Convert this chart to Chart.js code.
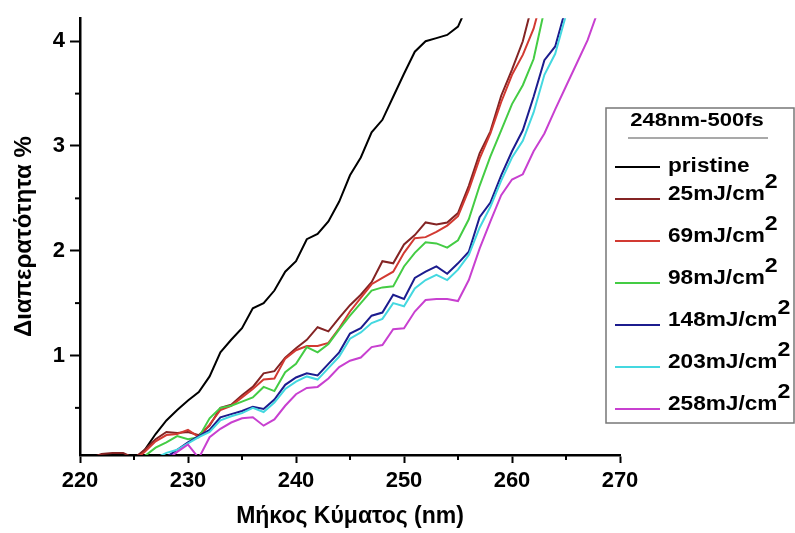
<!DOCTYPE html>
<html>
<head>
<meta charset="utf-8">
<title>Διαπερατότητα 248nm-500fs</title>
<script src="https://cdn.jsdelivr.net/npm/chart.js@4.4.1/dist/chart.umd.min.js"></script>
<style>
  html, body { margin: 0; padding: 0; background: #fff; }
  #chart { display: block; }
</style>
</head>
<body>
<canvas id="chart" width="795" height="533"></canvas>
<script>
// wavelength grid in nm (1 nm steps)
const wavelengths = [220, 221, 222, 223, 224, 225, 226, 227, 228, 229, 230, 231, 232, 233, 234, 235, 236,
  237, 238, 239, 240, 241, 242, 243, 244, 245, 246, 247, 248, 249, 250, 251, 252, 253, 254, 255, 256,
  257, 258, 259, 260, 261, 262, 263, 264, 265, 266, 267, 268];

// transmittance (%) per sample, null where the curve leaves the plot
const pristine = [0, 0, 0.01, 0, 0.01, 0,
  0.1, 0.25, 0.38, 0.48, 0.57, 0.65, 0.8, 1.03, 1.15, 1.26,
  1.45, 1.5, 1.62, 1.8, 1.9, 2.11, 2.16, 2.28, 2.47, 2.72,
  2.89, 3.13, 3.25, 3.47, 3.69, 3.9, 4.0, 4.03, 4.06, 4.14, 4.37,
  null, null, null, null, null, null, null, null, null, null, null, null];
const fluence25 = [0, 0.02, 0.06, 0.07, 0.07, 0.02,
  0.1, 0.2, 0.27, 0.26, 0.27, 0.24, 0.33, 0.5, 0.53, 0.62,
  0.7, 0.83, 0.85, 0.98, 1.07, 1.15, 1.27, 1.23, 1.36, 1.48,
  1.58, 1.7, 1.9, 1.88, 2.06, 2.15, 2.27, 2.25, 2.27, 2.36,
  2.62, 2.93, 3.14, 3.48, 3.73, 4.0, 4.4,
  null, null, null, null, null, null];
const fluence69 = [0, 0, 0.02, 0.03, 0.03, 0,
  0.08, 0.18, 0.24, 0.25, 0.29, 0.22, 0.34, 0.48, 0.52, 0.6,
  0.68, 0.77, 0.78, 0.97, 1.05, 1.09, 1.09, 1.12, 1.26, 1.42,
  1.55, 1.68, 1.74, 1.8, 1.98, 2.12, 2.13, 2.18, 2.24, 2.33,
  2.58, 2.88, 3.12, 3.42, 3.68, 3.87, 4.12, 4.5,
  null, null, null, null, null];
const fluence98 = [0, 0, 0, 0, 0, 0,
  0.04, 0.12, 0.17, 0.23, 0.2, 0.22, 0.4, 0.5, 0.52, 0.56,
  0.6, 0.7, 0.66, 0.84, 0.92, 1.08, 1.03, 1.11, 1.25, 1.38,
  1.5, 1.62, 1.65, 1.66, 1.85, 1.98, 2.08, 2.07, 2.03, 2.1,
  2.3, 2.62, 2.9, 3.15, 3.4, 3.58, 3.83, 4.3,
  null, null, null, null, null];
const fluence148 = [0, 0, 0, 0, 0, 0, 0, 0,
  0.03, 0.1, 0.17, 0.23, 0.29, 0.41, 0.44, 0.47, 0.51, 0.49,
  0.58, 0.72, 0.79, 0.83, 0.81, 0.92, 1.03, 1.21, 1.26, 1.38,
  1.41, 1.58, 1.54, 1.74, 1.8, 1.85, 1.78, 1.88, 1.99, 2.32,
  2.46, 2.72, 2.95, 3.15, 3.47, 3.82, 3.95, 4.32,
  null, null, null];
const fluence203 = [0, 0, 0, 0, 0, 0, 0,
  0.02, 0.07, 0.1, 0.16, 0.22, 0.27, 0.38, 0.42, 0.45, 0.5,
  0.46, 0.55, 0.68, 0.75, 0.8, 0.77, 0.88, 0.99, 1.16, 1.22,
  1.31, 1.35, 1.5, 1.47, 1.64, 1.72, 1.77, 1.72, 1.82, 1.96,
  2.22, 2.42, 2.67, 2.89, 3.05, 3.32, 3.68, 3.88, 4.25,
  null, null, null];
const fluence258 = [0, 0, 0, 0, 0, 0, 0, 0, 0,
  0.08, 0.15, 0.02, 0.22, 0.3, 0.36, 0.4, 0.41, 0.33, 0.39,
  0.52, 0.63, 0.69, 0.7, 0.78, 0.89, 0.95, 0.98, 1.08, 1.1,
  1.25, 1.26, 1.42, 1.53, 1.54, 1.54, 1.52, 1.72, 2.02, 2.28,
  2.53, 2.68, 2.73, 2.95, 3.12, 3.35, 3.57, 3.79, 4.01, 4.3];

const seriesValues = [pristine, fluence25, fluence69, fluence98, fluence148, fluence203, fluence258];
const seriesLabels = ['pristine', '25mJ/cm²', '69mJ/cm²', '98mJ/cm²', '148mJ/cm²', '203mJ/cm²', '258mJ/cm²'];
const legendTitle = '248nm-500fs';

const xTicks = [220, 230, 240, 250, 260, 270];
const xMinorTicks = [225, 235, 245, 255, 265];
const yTicks = [1, 2, 3, 4];
const yMinorTicks = [0.5, 1.5, 2.5, 3.5];

const lineColors = ['#000000', '#842424', '#d23a32', '#44cc44', '#1c1c8e', '#44d8e0', '#c840d0'];

Chart.defaults.font.family = '"Liberation Sans", Arial, sans-serif';
Chart.defaults.color = '#000';

// text squeezed into the legend box is drawn a bit wider than normal
function drawWideText(ctx, text, x, y, size, align) {
    ctx.save();
    ctx.font = 'bold ' + size + 'px "Liberation Sans", Arial, sans-serif';
    ctx.translate(x, y);
    ctx.scale(1.16, 1);
    ctx.textAlign = align || 'left';
    ctx.textBaseline = 'middle';
    ctx.fillStyle = '#000';
    ctx.fillText(text, 0, 0);
    const w = ctx.measureText(text).width * 1.16;
    ctx.restore();
    return w;
}

// short minor tick marks between the labelled ones
const minorTicks = {
    id: 'minorTicks',
    afterDraw(chart) {
        const { ctx, scales: { x, y } } = chart;
        ctx.save();
        ctx.strokeStyle = '#000';
        ctx.lineWidth = 2;
        xMinorTicks.forEach(v => {
            const px = x.getPixelForValue(v);
            ctx.beginPath();
            ctx.moveTo(px, x.top);
            ctx.lineTo(px, x.top + 5);
            ctx.stroke();
        });
        yMinorTicks.forEach(v => {
            const py = y.getPixelForValue(v);
            ctx.beginPath();
            ctx.moveTo(y.right, py);
            ctx.lineTo(y.right - 5, py);
            ctx.stroke();
        });
        ctx.restore();
    }
};

// boxed legend with a title and superscript units
const boxLegend = {
    id: 'boxLegend',
    afterDraw(chart) {
        const ctx = chart.ctx;
        const left = 606, top = 108, right = 794, bottom = 423;
        ctx.save();
        ctx.fillStyle = '#fff';
        ctx.fillRect(left, top, right - left, bottom - top);
        ctx.strokeStyle = '#777';
        ctx.lineWidth = 1.5;
        ctx.strokeRect(left, top, right - left, bottom - top);

        drawWideText(ctx, legendTitle, 697, 121, 19, 'center');
        ctx.strokeStyle = '#555';
        ctx.lineWidth = 1.2;
        ctx.beginPath();
        ctx.moveTo(628, 138);
        ctx.lineTo(768, 138);
        ctx.stroke();

        chart.data.datasets.forEach((ds, i) => {
            const rowY = i === 0 ? 167 : 195 + (i - 1) * 42;
            const lineY = i === 0 ? rowY : rowY + 4;
            ctx.strokeStyle = ds.borderColor;
            ctx.lineWidth = 2;
            ctx.beginPath();
            ctx.moveTo(615, lineY);
            ctx.lineTo(660, lineY);
            ctx.stroke();

            const parts = ds.label.split('²');
            const w = drawWideText(ctx, parts[0], 668, rowY, 19.5);
            if (parts.length > 1) {
                drawWideText(ctx, '2', 668 + w, rowY - 13, 20);
            }
        });
        ctx.restore();
    }
};

const datasets = seriesValues.map((values, i) => ({
    label: seriesLabels[i],
    data: wavelengths.map((w, j) => ({ x: w, y: values[j] })),
    borderColor: lineColors[i],
    borderWidth: 2,
    pointRadius: 0,
    tension: 0,
    fill: false,
    order: -i
}));

new Chart(document.getElementById('chart'), {
    type: 'line',
    data: { datasets: datasets },
    plugins: [minorTicks, boxLegend],
    options: {
        responsive: false,
        animation: false,
        devicePixelRatio: 1,
        layout: { padding: { left: 0, right: 175, top: 14, bottom: 0 } },
        plugins: {
            legend: { display: false },
            tooltip: { enabled: false }
        },
        scales: {
            x: {
                type: 'linear',
                min: 220,
                max: 270,
                afterFit: s => { s.height = 78; },
                afterBuildTicks: s => { s.ticks = xTicks.map(v => ({ value: v })); },
                border: { color: '#000', width: 2.5 },
                grid: { drawOnChartArea: false, drawTicks: true, tickLength: 8, tickColor: '#000', tickWidth: 2 },
                ticks: { padding: 5, maxRotation: 0, font: { size: 22, weight: 'bold' } },
                title: {
                    display: true,
                    text: 'Μήκος Κύματος (nm)',
                    font: { size: 23, weight: 'bold' },
                    padding: { top: 0, bottom: 3 }
                }
            },
            y: {
                type: 'linear',
                min: 0.05,
                max: 4.22,
                afterFit: s => { s.width = 80; },
                afterBuildTicks: s => { s.ticks = yTicks.map(v => ({ value: v })); },
                border: { color: '#000', width: 2.5 },
                grid: { drawOnChartArea: false, drawTicks: true, tickLength: 10, tickColor: '#000', tickWidth: 2 },
                ticks: { padding: 5, font: { size: 22, weight: 'bold' } },
                title: {
                    display: true,
                    text: 'Διαπερατότητα %',
                    font: { size: 24, weight: 'bold' },
                    padding: { top: 10, bottom: 0 }
                }
            }
        }
    }
});
</script>
</body>
</html>
